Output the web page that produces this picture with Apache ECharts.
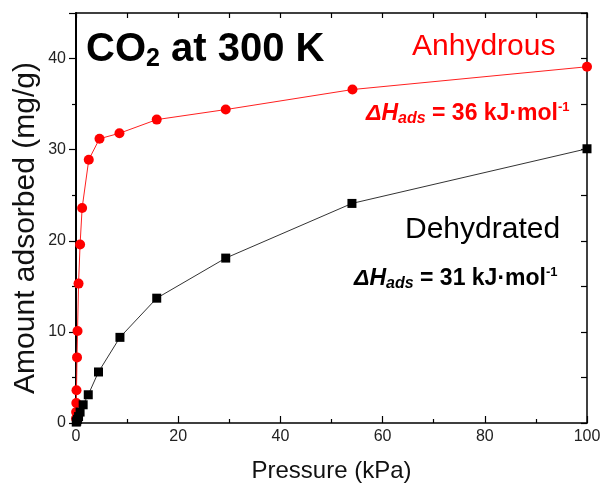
<!DOCTYPE html>
<html>
<head>
<meta charset="utf-8">
<script src="https://cdn.jsdelivr.net/npm/echarts@6/dist/echarts.min.js"></script>
<style>
  html, body { margin: 0; padding: 0; background: #fff; }
  #chart { width: 605px; height: 495px; }
</style>
</head>
<body>
<div id="chart"></div>
<script>
// CO2 isotherms at 300 K: pressure (kPa) vs. amount adsorbed (mg/g)
const anhydrousP = [0.01, 0.03, 0.06, 0.1, 0.2, 0.3, 0.5, 0.8, 1.2, 2.5, 4.6, 8.5, 15.8, 29.3, 54.1, 100];
const anhydrousQ = [0.5, 1.2, 2.2, 3.6, 7.2, 10.1, 15.3, 19.6, 23.6, 28.9, 31.2, 31.8, 33.3, 34.4, 36.6, 39.1];

const dehydratedP = [0.05, 0.15, 0.3, 0.5, 0.8, 1.4, 2.4, 4.4, 8.6, 15.8, 29.3, 54.0, 100];
const dehydratedQ = [0.1, 0.2, 0.4, 0.7, 1.2, 2.0, 3.1, 5.6, 9.4, 13.7, 18.1, 24.1, 30.1];

const xTicks = [0, 20, 40, 60, 80, 100];
const yTicks = [0, 10, 20, 30, 40];

const pairs = (xs, ys) => xs.map((x, i) => [x, ys[i]]);

const FONT = 'Liberation Sans, Arial, sans-serif';
const chart = echarts.init(document.getElementById('chart'), null, { renderer: 'canvas' });

const tickFont = { fontFamily: FONT, fontSize: 16, color: '#222' };

// rich-text styles for the ΔH_ads annotations
const dhRich = color => ({
  i: { fontFamily: FONT, fontWeight: 'bold', fontStyle: 'italic', fontSize: 23, fill: color },
  s: { fontFamily: FONT, fontWeight: 'bold', fontStyle: 'italic', fontSize: 16, fill: color, padding: [10, 0, 0, 0] },
  t: { fontFamily: FONT, fontWeight: 'bold', fontSize: 23, fill: color },
  p: { fontFamily: FONT, fontWeight: 'bold', fontSize: 13, fill: color, padding: [0, 0, 12, 0] }
});

chart.setOption({
  animation: false,
  backgroundColor: '#fff',
  grid: { left: 76, right: 18, top: 13, bottom: 72, containLabel: false },
  xAxis: [
    {
      type: 'value', position: 'bottom', min: 0, max: 100, interval: 20,
      name: 'Pressure (kPa)', nameLocation: 'middle', nameGap: 36,
      nameTextStyle: { fontFamily: FONT, fontSize: 24, color: '#111' },
      axisLine: { show: true, onZero: false, lineStyle: { color: '#000', width: 1.5 } },
      axisTick: { show: true, inside: true, length: 7, lineStyle: { color: '#000', width: 1.2 } },
      minorTick: { show: true, splitNumber: 2, length: 4, lineStyle: { color: '#000', width: 1.2 } },
      axisLabel: Object.assign({ margin: 6, formatter: v => xTicks.includes(v) ? String(v) : '' }, tickFont),
      splitLine: { show: false }
    },
    {
      type: 'value', position: 'top', min: 0, max: 100, interval: 10,
      axisLine: { show: true, onZero: false, lineStyle: { color: '#000', width: 1.5 } },
      axisTick: { show: true, inside: true, length: 5, lineStyle: { color: '#000', width: 1.2 } },
      axisLabel: { show: false },
      splitLine: { show: false }
    }
  ],
  yAxis: [
    {
      type: 'value', position: 'left', min: 0, max: 45, interval: 10,
      axisLine: { show: true, onZero: false, lineStyle: { color: '#000', width: 2 } },
      axisTick: { show: true, inside: false, length: 7, lineStyle: { color: '#000', width: 1.2 } },
      minorTick: { show: true, splitNumber: 2, length: 4, lineStyle: { color: '#000', width: 1.2 } },
      axisLabel: Object.assign({ margin: 10, formatter: v => yTicks.includes(v) ? String(v) : '' }, tickFont),
      splitLine: { show: false }
    },
    {
      type: 'value', position: 'right', min: 0, max: 45, interval: 5,
      axisLine: { show: true, onZero: false, lineStyle: { color: '#000', width: 1.5 } },
      axisTick: { show: true, inside: true, length: 6, lineStyle: { color: '#000', width: 1.2 } },
      axisLabel: { show: false },
      splitLine: { show: false }
    }
  ],
  series: [
    {
      name: 'Anhydrous', type: 'line', xAxisIndex: 0, yAxisIndex: 0,
      data: pairs(anhydrousP, anhydrousQ),
      symbol: 'circle', symbolSize: 10,
      itemStyle: { color: '#ff0000' },
      lineStyle: { color: '#ff2020', width: 1 },
      z: 2
    },
    {
      name: 'Dehydrated', type: 'line', xAxisIndex: 0, yAxisIndex: 0,
      data: pairs(dehydratedP, dehydratedQ),
      symbol: 'rect', symbolSize: 9,
      itemStyle: { color: '#000' },
      lineStyle: { color: '#333', width: 1 },
      z: 3
    }
  ],
  graphic: [
    {
      // y-axis title, rotated
      type: 'text', x: 26, y: 228, rotation: Math.PI / 2, z: 10,
      style: { text: 'Amount adsorbed (mg/g)', fontFamily: FONT, fontSize: 30, fill: '#111', align: 'center', verticalAlign: 'middle' }
    },
    {
      type: 'text', left: 86, top: 30, z: 10,
      style: {
        text: '{a|CO}{b|2}{a| at 300 K}',
        rich: {
          a: { fontFamily: FONT, fontWeight: 'bold', fontSize: 40, fill: '#000' },
          b: { fontFamily: FONT, fontWeight: 'bold', fontSize: 25, fill: '#000', padding: [18, 0, 0, 0] }
        }
      }
    },
    {
      type: 'text', left: 412, top: 32, z: 10,
      style: { text: 'Anhydrous', fontFamily: FONT, fontSize: 30, fill: '#ff0000' }
    },
    {
      type: 'text', left: 366, top: 101, z: 10,
      style: { text: '{i|ΔH}{s|ads}{t| = 36 kJ·mol}{p|-1}', rich: dhRich('#ff0000') }
    },
    {
      type: 'text', left: 405, top: 215, z: 10,
      style: { text: 'Dehydrated', fontFamily: FONT, fontSize: 30, fill: '#000' }
    },
    {
      type: 'text', left: 354, top: 266, z: 10,
      style: { text: '{i|ΔH}{s|ads}{t| = 31 kJ·mol}{p|-1}', rich: dhRich('#000') }
    }
  ]
});
</script>
</body>
</html>
